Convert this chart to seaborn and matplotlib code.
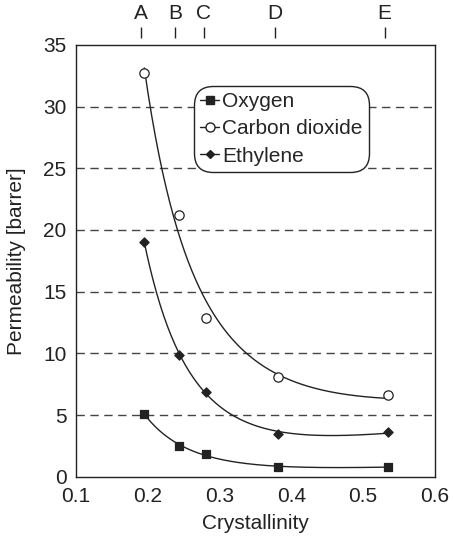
import numpy as np
import pandas as pd
import matplotlib
matplotlib.use("Agg")
import matplotlib.pyplot as plt
import seaborn as sns
from matplotlib.lines import Line2D

# ---- data ----
crystallinity = [0.195, 0.244, 0.281, 0.382, 0.534]
oxygen = [5.1, 2.5, 1.85, 0.8, 0.8]
carbon_dioxide = [32.7, 21.2, 12.9, 8.1, 6.6]
ethylene = [19.0, 9.9, 6.9, 3.5, 3.6]
series_names = ["Oxygen", "Carbon dioxide", "Ethylene"]
top_labels = ["A", "B", "C", "D", "E"]
top_positions = [0.19, 0.238, 0.278, 0.377, 0.530]

sns.set_theme(style="white")
plt.rcParams["font.family"] = ["Liberation Sans", "DejaVu Sans"]

ink = "#222222"
fs = 15
fig = plt.figure(figsize=(4.53, 5.40), dpi=100)
ax = fig.add_axes([0.168, 0.117, 0.792, 0.800])

df = pd.DataFrame({
    "x": crystallinity * 3,
    "y": oxygen + carbon_dioxide + ethylene,
    "gas": sum([[n] * len(crystallinity) for n in series_names], []),
})

# smooth fitted curves (quadratic in 1/x)
xs = np.linspace(min(crystallinity), max(crystallinity), 200)
fits = {}
for name, vals in zip(series_names, [oxygen, carbon_dioxide, ethylene]):
    coef = np.polyfit(1.0 / np.array(crystallinity), vals, 2)
    fits[name] = np.polyval(coef, 1.0 / xs)
curve_df = pd.DataFrame({
    "x": np.tile(xs, 3),
    "y": np.concatenate([fits[n] for n in series_names]),
    "gas": np.repeat(series_names, len(xs)),
})
sns.lineplot(data=curve_df, x="x", y="y", hue="gas", palette=[ink] * 3,
             legend=False, ax=ax, linewidth=1.0, sort=False, estimator=None)

styles = {
    "Oxygen": dict(marker="s", s=38, facecolor=ink, edgecolor=ink),
    "Carbon dioxide": dict(marker="o", s=45, facecolor="white", edgecolor=ink),
    "Ethylene": dict(marker="D", s=22, facecolor=ink, edgecolor=ink),
}
for name in series_names:
    sub = df[df.gas == name]
    st = styles[name]
    sns.scatterplot(x=sub.x, y=sub.y, ax=ax, marker=st["marker"], s=st["s"],
                    color=st["facecolor"], edgecolor=st["edgecolor"],
                    linewidth=0.9, zorder=5, legend=False)

ax.set_xlim(0.1, 0.6)
ax.set_ylim(0, 35)
ax.set_xticks([0.1, 0.2, 0.3, 0.4, 0.5, 0.6])
ax.set_xticklabels(["0.1", "0.2", "0.3", "0.4", "0.5", "0.6"])
ax.set_yticks([0, 5, 10, 15, 20, 25, 30, 35])
ax.tick_params(axis="both", length=0, labelsize=fs, colors=ink)
ax.tick_params(axis="x", pad=7)
ax.tick_params(axis="y", pad=7)
for y in [5, 10, 15, 20, 25, 30]:
    ax.axhline(y, color="#444444", linestyle=(0, (6, 4)), linewidth=1.0, zorder=0)
for s in ax.spines.values():
    s.set_color(ink)
    s.set_linewidth(1.0)
ax.set_xlabel("Crystallinity", fontsize=fs, color=ink, labelpad=6)
ax.set_ylabel("Permeability [barrer]", fontsize=fs, color=ink, labelpad=12)

sec = ax.secondary_xaxis(1.016)
sec.set_xticks(top_positions)
sec.set_xticklabels(top_labels)
sec.tick_params(axis="x", direction="out", length=8, width=1.0, colors=ink,
                labelsize=fs, pad=3)
sec.spines["top"].set_visible(False)

handles = [
    Line2D([], [], color=ink, lw=1.0, marker="s", markersize=6, markerfacecolor=ink),
    Line2D([], [], color=ink, lw=1.0, marker="o", markersize=6.5, markerfacecolor="white"),
    Line2D([], [], color=ink, lw=1.0, marker="D", markersize=4.5, markerfacecolor=ink),
]
leg = ax.legend(handles, series_names, loc="upper left", bbox_to_anchor=(0.329, 0.905),
                fontsize=fs, handlelength=0.9, handletextpad=0.15, labelspacing=0.4,
                borderpad=0.3, borderaxespad=0, frameon=True, fancybox=True,
                edgecolor=ink, framealpha=1.0)
leg.get_frame().set_linewidth(1.0)
leg.get_frame().set_boxstyle("round", pad=0.0, rounding_size=0.9)

fig.savefig("out.png", dpi=100, facecolor="white")
